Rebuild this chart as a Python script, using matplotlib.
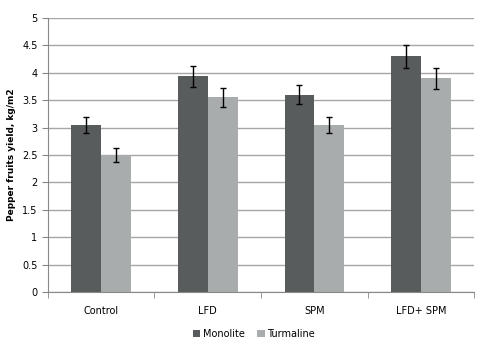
import matplotlib.pyplot as plt
import numpy as np

# data
categories = ['Control', 'LFD', 'SPM', 'LFD+ SPM']
monolite = [3.05, 3.94, 3.6, 4.3]
monolite_err = [0.15, 0.19, 0.17, 0.21]
turmaline = [2.5, 3.55, 3.05, 3.9]
turmaline_err = [0.12, 0.18, 0.14, 0.19]

fig = plt.figure(figsize=(4.79, 3.41), dpi=100)
ax = fig.add_axes([0.1, 0.144, 0.89, 0.803])

x = np.arange(len(categories))
w = 0.28
ekw = dict(ecolor='black', elinewidth=1, capsize=2.5, capthick=1)
ax.bar(x - w/2, monolite, w, yerr=monolite_err, color='#595c5c',
       label='Monolite', error_kw=ekw, zorder=2)
ax.bar(x + w/2, turmaline, w, yerr=turmaline_err, color='#a9acac',
       label='Turmaline', error_kw=ekw, zorder=2)

ax.set_xlim(-0.5, len(categories) - 0.5)
ax.set_ylim(0, 5)
ax.set_yticks(np.arange(0, 5.01, 0.5))
ax.set_yticklabels(['0', '0.5', '1', '1.5', '2', '2.5', '3', '3.5', '4', '4.5', '5'])
ax.yaxis.grid(True, color='#a6a6a6', linewidth=1, zorder=0)
ax.set_axisbelow(True)

ax.set_xticks(x)
ax.set_xticklabels(categories)
ax.set_xticks(np.arange(-0.5, len(categories)), minor=True)
ax.tick_params(axis='x', which='major', length=0, labelsize=7, pad=10)
ax.tick_params(axis='x', which='minor', length=4, color='#888888')
ax.tick_params(axis='y', length=4, color='#888888', labelsize=7)

for s in ['top', 'right']:
    ax.spines[s].set_visible(False)
ax.spines['left'].set_color('#888888')
ax.spines['bottom'].set_color('#888888')

ax.set_ylabel('Pepper fruits yield, kg/m2', fontsize=6.5, fontweight='bold', labelpad=4)

fig.legend(loc='lower center', bbox_to_anchor=(0.53, -0.02), ncol=2, frameon=False,
           fontsize=7, handlelength=0.8, handleheight=0.8, handletextpad=0.3,
           columnspacing=1.2)

fig.savefig('out.png', dpi=100)
